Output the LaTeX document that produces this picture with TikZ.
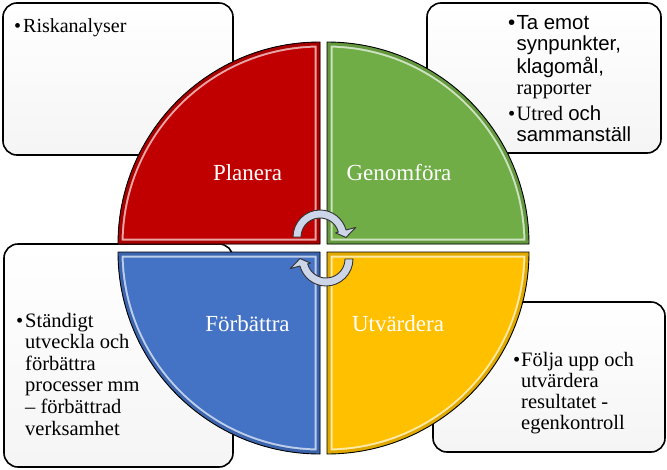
\documentclass[tikz,border=0pt]{standalone}
\usepackage{fontspec}
\setmainfont{Liberation Serif}
\newfontfamily\arialf{Liberation Sans}
\definecolor{qred}{HTML}{C00000}
\definecolor{qgreen}{HTML}{70AD47}
\definecolor{qblue}{HTML}{4472C4}
\definecolor{qyellow}{HTML}{FFC000}
\definecolor{arrowfill}{HTML}{CDD5E8}
\newcommand\myquad[4]{%
  \begin{scope}
    \clip (#1,#2) -- ++(#3:202) arc[start angle=#3, delta angle=90, radius=202] -- cycle;
    \fill[#4] (#1,#2) circle[radius=206];
    \draw[#4!35!white, line width=11pt] (#1,#2) -- ++(#3:202) arc[start angle=#3, delta angle=90, radius=202] -- cycle;
    \draw[#4!88!black, line width=7pt] (#1,#2) -- ++(#3:202) arc[start angle=#3, delta angle=90, radius=202] -- cycle;
  \end{scope}
  \draw[black, line width=0.9pt, line join=round] (#1,#2) -- ++(#3:202) arc[start angle=#3, delta angle=90, radius=202] -- cycle;
}
\begin{document}
\begin{tikzpicture}[x=1pt,y=1pt,
  box/.style={draw=black, line width=1.6pt, rounded corners=14pt, top color=white, bottom color=black!4, inner sep=0pt},
  qlabel/.style={text=white, font=\fontsize{23}{27}\selectfont, anchor=base, inner sep=0pt},
  btext/.style={anchor=base west, inner sep=0pt},
  cyc/.style={fill=arrowfill, draw=black!80, line width=0.9pt, line join=round}]
\useasboundingbox (0,0) rectangle (667,-469);
\fill[white] (0,0) rectangle (667,-469);

% text boxes
\node[box, minimum width=230pt, minimum height=152pt] (boxtl) at (118,-79) {};
\node[box, minimum width=234pt, minimum height=150pt] (boxtr) at (544,-78) {};
\node[box, minimum width=229pt, minimum height=223pt] (boxbl) at (118.5,-355.5) {};
\node[box, minimum width=232pt, minimum height=150pt] (boxbr) at (549,-377) {};

% quadrants
\myquad{320}{-244}{90}{qred}
\myquad{327}{-244}{0}{qgreen}
\myquad{327}{-252}{270}{qyellow}
\myquad{320}{-252}{180}{qblue}

% circular arrows
\begin{scope}[shift={(320,-237)}]
  \path[cyc] (180:27) arc[start angle=180, end angle=15, radius=27] -- (15:37) -- (-1:26) -- (15:16) -- (15:19) arc[start angle=15, end angle=180, radius=19] -- cycle;
\end{scope}
\begin{scope}[shift={(326,-259)}, rotate=180]
  \path[cyc] (180:27) arc[start angle=180, end angle=15, radius=27] -- (15:37) -- (-1:26) -- (15:16) -- (15:19) arc[start angle=15, end angle=180, radius=19] -- cycle;
\end{scope}

% quadrant labels
\node[qlabel] (planera) at (247.5,-180) {Planera};
\node[qlabel] (genomfora) at (399,-180) {Genomföra};
\node[qlabel] (forbattra) at (247.5,-331.7) {Förbättra};
\node[qlabel] (utvardera) at (398,-331.7) {Utvärdera};

% box texts
\node[btext, font=\fontsize{20}{21.6}\selectfont] (ttl) at (14,-32)
  {\begin{tabular}[t]{@{}l@{}l@{}}\makebox[9pt][l]{•}&Riskanalyser\end{tabular}};
\node[btext, font=\fontsize{20.4}{21.4}\selectfont] (ttr) at (508,-29.3)
  {\begin{tabular}[t]{@{}l@{}l@{}}
   \makebox[8.5pt][l]{\arialf •}&\arialf Ta emot\\
   &\arialf synpunkter,\\
   &\arialf klagomål,\\
   &rapporter\\[4pt]
   \makebox[8.5pt][l]{•}&Utred {\arialf och}\\
   &\arialf sammanställ
  \end{tabular}};
\node[btext, font=\fontsize{20.5}{21.6}\selectfont] (tbl) at (16,-327)
  {\begin{tabular}[t]{@{}l@{}l@{}}
   \makebox[9pt][l]{•}&Ständigt\\
   &utveckla och\\
   &förbättra\\
   &processer mm\\
   &– förbättrad\\
   &verksamhet
  \end{tabular}};
\node[btext, font=\fontsize{20.5}{21.3}\selectfont] (tbr) at (513,-366)
  {\begin{tabular}[t]{@{}l@{}l@{}}
   \makebox[8pt][l]{•}&Följa upp och\\
   &utvärdera\\
   &resultatet -\\
   &egenkontroll
  \end{tabular}};
\end{tikzpicture}
\end{document}
